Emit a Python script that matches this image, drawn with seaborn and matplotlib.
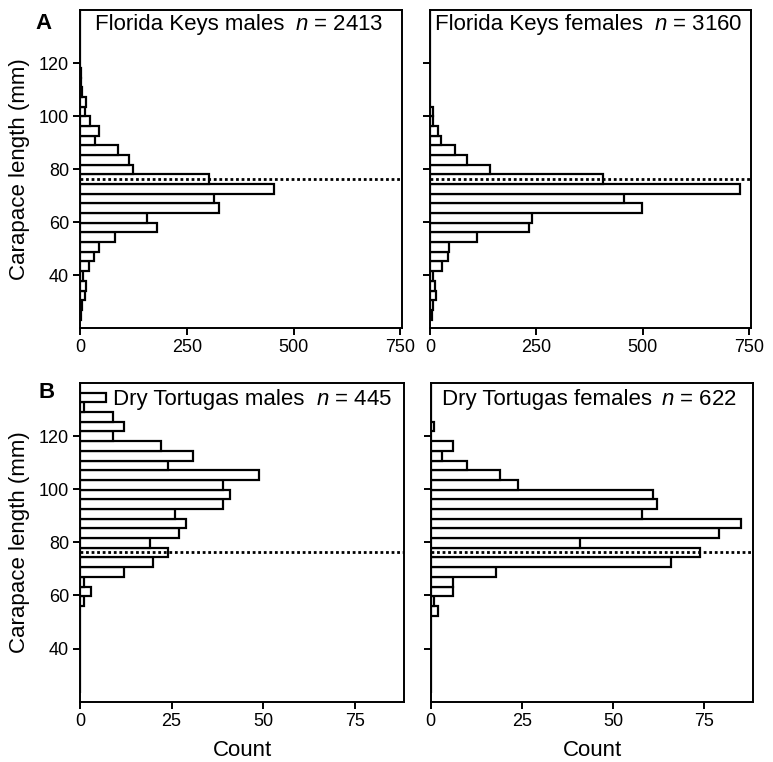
import numpy as np
import pandas as pd
import seaborn as sns
import matplotlib.pyplot as plt

sns.set_style("ticks")
plt.rcParams['font.family'] = ['Liberation Sans', 'DejaVu Sans']
plt.rcParams['mathtext.fontset'] = 'custom'
plt.rcParams['mathtext.it'] = 'Liberation Sans:italic'
plt.rcParams['mathtext.rm'] = 'Liberation Sans'
plt.rcParams['text.color'] = 'black'
plt.rcParams['axes.labelcolor'] = 'black'
plt.rcParams['xtick.color'] = 'black'
plt.rcParams['ytick.color'] = 'black'

# size classes, from the bottom (23.2 mm) up to 140 mm
bin_low = 23.2
bin_width = 3.65
n_bins = 32
legal_size = 76.2  # mm, dotted line

# counts per size class, bottom to top
fk_males = [2, 5, 12, 13, 8, 22, 33, 44, 81, 180, 158, 326, 314, 455, 301, 123,
            115, 90, 36, 44, 24, 12, 15, 5, 3, 2, 1, 0, 0, 0, 0, 0]
fk_females = [4, 6, 15, 12, 8, 28, 42, 45, 111, 233, 240, 498, 455, 728, 406, 140,
              88, 58, 27, 19, 8, 6, 1, 0, 0, 0, 0, 0, 0, 0, 0, 0]
dt_males = [0, 0, 0, 0, 0, 0, 0, 0, 0, 1, 3, 1, 12, 20, 24, 19,
            27, 29, 26, 39, 41, 39, 49, 24, 31, 22, 9, 12, 9, 1, 7, 0]
dt_females = [0, 0, 0, 0, 0, 0, 0, 0, 2, 1, 6, 6, 18, 66, 74, 41,
              79, 85, 58, 62, 61, 24, 19, 10, 3, 6, 0, 1, 0, 0, 0, 0]

names = ['Florida Keys males', 'Florida Keys females',
         'Dry Tortugas males', 'Dry Tortugas females']
n_text = ['2413', '3160', '445', '622']
x_ticks_a = [0, 250, 500, 750]
x_ticks_b = [0, 25, 50, 75]
y_ticks = [40, 60, 80, 100, 120]

edges = bin_low + bin_width * np.arange(n_bins + 1)
mids = edges[:-1] + bin_width / 2

W, H = 773, 762
fig = plt.figure(figsize=(W / 100, H / 100), dpi=100)

def box(l, r, t, b):
    return [l / W, 1 - b / H, (r - l) / W, (b - t) / H]

axs = [fig.add_axes(box(80, 402, 10, 328)),
       fig.add_axes(box(430, 751, 10, 328)),
       fig.add_axes(box(80, 404, 383, 701.7)),
       fig.add_axes(box(430.7, 753.3, 383, 701.7))]

all_counts = [fk_males, fk_females, dt_males, dt_females]
name_x = [0.047, 0.016, 0.103, 0.034]
end_x = [0.941, 0.973, 0.962, 0.948]
text_y = [0.937, 0.937, 0.931, 0.931]

for i, ax in enumerate(axs):
    df = pd.DataFrame({'length': mids, 'count': all_counts[i]})
    sns.histplot(data=df, y='length', weights='count', bins=list(edges), ax=ax,
                 color='white', edgecolor='black', linewidth=1.6, alpha=1)
    ax.axhline(legal_size, color='black', lw=2.0, linestyle=(0, (1, 1.0)), zorder=5)
    ax.set_ylim(20, 140)
    ax.set_yticks(y_ticks)
    if i < 2:
        ax.set_xlim(0, 754)
        ax.set_xticks(x_ticks_a)
        ax.set_xlabel('')
    else:
        ax.set_xlim(0, 88.5)
        ax.set_xticks(x_ticks_b)
        ax.set_xlabel('Count', fontsize=16, labelpad=7)
    if i % 2 == 0:
        ax.set_ylabel('Carapace length (mm)', fontsize=16, labelpad=6)
        ax.tick_params(axis='y', labelleft=True)
    else:
        ax.set_ylabel('')
        ax.tick_params(axis='y', labelleft=False)
    ax.tick_params(direction='out', length=5, width=1.4, labelsize=13, pad=3)
    for s in ax.spines.values():
        s.set_linewidth(1.4)
        s.set_color('black')
    ax.text(name_x[i], text_y[i], names[i], transform=ax.transAxes,
            fontsize=16, ha='left', va='baseline')
    ax.text(end_x[i], text_y[i], r'$n$ = ' + n_text[i], transform=ax.transAxes,
            fontsize=16, ha='right', va='baseline')

fig.text(35 / W, 1 - 29 / H, 'A', fontsize=16, fontweight='bold')
fig.text(38 / W, 1 - 398 / H, 'B', fontsize=16, fontweight='bold')

plt.savefig('out.png', dpi=100)
